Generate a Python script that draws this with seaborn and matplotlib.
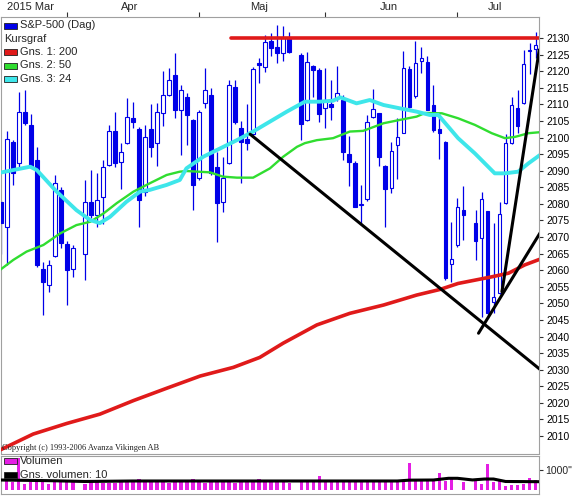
import numpy as np
import pandas as pd
import seaborn as sns
import matplotlib
matplotlib.use("Agg")
import matplotlib.pyplot as plt
from matplotlib.patches import Rectangle

nan = np.nan

# S&P-500 (Dag), weekdays 2015-03-17 .. 2015-07-20, holidays left empty
dates = pd.bdate_range("2015-03-17", "2015-07-20")

opens = [2080.6, 2073.0, 2098.6, 2092.3, 2107.7, 2103.8, 2093.2, 2060.4, 2055.6, 2064.2,
         2084.2, 2067.9, 2060.3, nan, 2064.9, 2080.6, 2076.5, 2082.0, 2091.7, 2102.0,
         2092.6, 2098.3, 2105.9, 2102.6, 2083.6, 2102.6, 2098.3, 2107.4, 2112.8, 2118.8,
         2108.3, 2112.2, 2105.3, 2087.8, 2110.4, 2112.8, 2091.1, 2080.6, 2092.3, 2115.2,
         2102.9, 2099.6, 2101.0, 2122.5, 2121.3, 2129.1, 2127.3, 2125.5, 2130.0, nan,
         2124.9, 2105.3, 2121.6, 2120.4, 2108.9, 2110.1, 2111.8, 2111.3, 2095.0, 2092.4,
         2079.7, 2081.4, 2106.3, 2107.3, 2091.4, 2084.7, 2097.7, 2101.5, 2120.6, 2112.5,
         2123.0, 2122.9, 2109.8, 2102.5, 2098.7, 2061.9, 2067.6, 2078.1, nan, 2074.3,
         2069.6, 2077.7, 2050.5, 2053.2, 2080.4, 2098.4, 2108.8, 2110.5, 2126.0, 2126.6]
highs = [2081.2, 2102.0, 2099.3, 2113.7, 2114.3, 2107.2, 2097.1, 2062.5, 2063.1, 2088.7,
         2085.1, 2068.8, 2067.5, nan, 2087.2, 2090.2, 2089.3, 2093.2, 2103.8, 2107.7,
         2098.3, 2111.9, 2110.7, 2103.2, 2103.8, 2110.0, 2110.4, 2120.2, 2121.0, 2125.5,
         2115.8, 2113.4, 2105.5, 2108.3, 2121.0, 2115.0, 2095.6, 2094.1, 2117.3, 2117.3,
         2105.0, 2110.1, 2121.3, 2124.0, 2130.9, 2131.4, 2133.9, 2133.7, 2131.9, nan,
         2125.5, 2125.8, 2122.0, 2121.0, 2120.9, 2117.3, 2121.6, 2112.8, 2100.5, 2093.0,
         2085.7, 2106.7, 2114.5, 2107.5, 2091.6, 2098.7, 2106.0, 2126.2, 2121.5, 2129.2,
         2127.4, 2124.5, 2115.7, 2107.3, 2098.9, 2074.6, 2081.7, 2085.3, nan, 2078.0,
         2083.7, 2077.9, 2074.2, 2080.6, 2101.2, 2112.2, 2114.4, 2126.3, 2128.5, 2131.8]
lows = [2065.0, 2061.6, 2085.7, 2091.0, 2103.8, 2090.8, 2061.0, 2046.5, 2053.4, 2064.0,
        2066.7, 2049.5, 2057.9, nan, 2057.0, 2075.8, 2073.0, 2074.0, 2091.5, 2091.0,
        2084.5, 2098.0, 2102.9, 2073.0, 2082.5, 2094.0, 2091.5, 2103.5, 2112.5, 2105.9,
        2094.7, 2097.7, 2078.1, 2087.2, 2109.0, 2088.7, 2068.5, 2077.5, 2092.0, 2104.2,
        2086.3, 2096.2, 2100.5, 2116.4, 2119.8, 2124.5, 2122.4, 2123.0, 2125.5, nan,
        2099.2, 2105.0, 2112.3, 2104.8, 2102.8, 2105.3, 2111.0, 2093.2, 2085.5, 2079.0,
        2073.6, 2081.0, 2106.0, 2091.3, 2073.1, 2083.2, 2087.6, 2101.3, 2109.0, 2112.0,
        2119.5, 2108.3, 2101.8, 2093.5, 2057.0, 2056.3, 2067.0, 2069.2, nan, 2063.0,
        2046.0, 2045.5, 2047.0, 2052.8, 2080.0, 2098.0, 2101.5, 2110.2, 2119.2, 2124.0]
closes = [2074.3, 2099.6, 2089.3, 2107.7, 2104.4, 2091.1, 2061.6, 2056.4, 2061.6, 2086.3,
          2068.2, 2060.1, 2066.7, nan, 2080.6, 2076.6, 2081.1, 2091.2, 2102.0, 2092.3,
          2095.6, 2106.2, 2104.7, 2081.2, 2100.2, 2097.1, 2107.7, 2112.8, 2117.3, 2108.3,
          2114.3, 2106.8, 2085.7, 2107.7, 2114.3, 2089.3, 2080.3, 2087.8, 2115.8, 2104.7,
          2098.6, 2098.3, 2120.6, 2121.9, 2128.8, 2127.0, 2125.5, 2130.0, 2125.8, nan,
          2104.1, 2122.8, 2120.4, 2107.1, 2111.3, 2109.3, 2113.5, 2095.7, 2092.7, 2079.1,
          2080.1, 2104.8, 2108.5, 2094.0, 2084.4, 2096.0, 2100.2, 2120.9, 2109.3, 2122.4,
          2123.9, 2108.3, 2102.3, 2101.3, 2057.6, 2063.3, 2079.0, 2076.6, nan, 2068.9,
          2081.4, 2047.2, 2051.8, 2076.9, 2098.4, 2109.8, 2103.5, 2122.2, 2126.3, 2127.9]
volumes = [400, 450, 420, 1580, 300, 400, 440, 420, 340, 400,
           430, 430, 470, nan, 330, 400, 400, 390, 370, 380,
           400, 420, 470, 560, 400, 400, 420, 420, 380, 520,
           430, 440, 560, 420, 390, 450, 470, 450, 410, 390,
           410, 420, 400, 560, 400, 400, 410, 400, 385, nan,
           510, 465, 465, 710, 450, 440, 450, 460, 450, 430,
           440, 450, 440, 440, 430, 440, 450, 520, 1350, 450,
           440, 450, 470, 870, 470, 610, 40, 400, nan, 510,
           300, 1300, 400, 510, 220, 270, 270, 300, 590, 490]

# moving averages (position in trading slots, level)
ma200_pos = [-0.1, 5.4, 11.0, 16.5, 22.1, 27.6, 33.2, 38.7, 43.1, 47.0, 52.6, 58.1,
             63.7, 69.2, 73.1, 76.1, 78.9, 81.7, 84.5, 87.2, 89.7]
ma200 = [2005.8, 2010.6, 2013.8, 2016.6, 2020.7, 2024.4, 2028.1, 2030.7, 2033.7, 2038.0,
         2043.5, 2047.0, 2049.5, 2052.5, 2054.2, 2056.0, 2057.0, 2058.0, 2059.1, 2061.6, 2063.3]
ma50_pos = [-0.1, 2.1, 4.3, 7.1, 9.9, 12.6, 14.9, 17.1, 19.3, 22.1, 24.8, 27.6, 29.8,
            30.9, 34.8, 37.0, 39.3, 42.0, 44.8, 47.0, 49.3, 50.6, 52.6, 55.3, 58.1, 60.3,
            63.7, 66.4, 69.2, 70.6, 73.4, 76.1, 78.9, 81.7, 83.9, 85.6, 87.8, 89.7]
ma50 = [2060.1, 2063.1, 2065.6, 2067.6, 2071.1, 2073.6, 2074.6, 2077.1, 2080.2, 2083.7,
        2086.2, 2088.7, 2089.7, 2089.9, 2089.5, 2088.2, 2087.9, 2087.9, 2090.7, 2094.2,
        2097.2, 2098.3, 2099.2, 2099.8, 2101.8, 2102.0, 2104.3, 2105.3, 2106.3, 2107.4,
        2107.3, 2105.8, 2103.8, 2101.3, 2099.8, 2100.2, 2101.3, 2101.6]
ma24_pos = [-0.1, 4.9, 6.0, 9.3, 12.6, 14.9, 16.5, 18.2, 20.9, 23.2, 24.8, 27.6, 29.8,
            30.9, 33.7, 36.5, 39.3, 42.0, 44.8, 47.6, 50.6, 53.1, 55.3, 56.5, 59.2, 61.4,
            63.7, 66.4, 69.2, 71.4, 72.8, 76.1, 78.9, 82.2, 83.9, 86.1, 87.8, 89.7]
ma24 = [2089.4, 2091.2, 2090.2, 2083.7, 2078.1, 2075.1, 2074.2, 2076.1, 2080.6, 2083.7,
        2084.2, 2085.7, 2087.2, 2090.7, 2094.2, 2096.7, 2099.2, 2101.8, 2104.8, 2107.8,
        2110.8, 2110.8, 2111.1, 2112.1, 2110.3, 2111.3, 2109.8, 2108.8, 2107.8, 2106.8,
        2106.8, 2099.8, 2095.2, 2089.2, 2089.2, 2089.7, 2092.2, 2094.7]
vol_avg_pos = [0, 8, 14, 22, 48, 66, 68, 72, 74.5, 76, 78.5, 80.5, 82, 84, 89.5]
vol_avg = [512, 480, 440, 464, 464, 464, 505, 512, 595, 595, 515, 560, 560, 440, 430]

# hand-drawn lines on the chart
resist_pos, resist_lvl = [38.4, 90.0], [2130.0, 2130.0]
down_pos, down_lvl = [41.5, 90.0], [2101.0, 2029.7]
up_pos, up_lvl = [79.5, 90.0], [2041.0, 2072.0]
steep_pos, steep_lvl = [83.4, 89.6], [2053.5, 2126.4]

month_names = ["2015 Mar", "Apr", "Maj", "Jun", "Jul"]
price_ticks = list(range(2010, 2135, 5))

BLUE = "#0000e8"
RED = "#e01a1a"
GREEN = "#30dd30"
CYAN = "#3ee6ea"
MAGENTA = "#e41ee4"
GRAY = "#a0a0a0"

sns.set_style("white")
plt.rcParams["font.family"] = ["Liberation Sans", "DejaVu Sans"]

W, H = 574, 496
fig = plt.figure(figsize=(W / 100, H / 100), dpi=100)


def fx(x):
    return x / W


def fy(y):
    return 1 - y / H


ax = fig.add_axes([fx(1), fy(453.5), (538.5 - 1) / W, (453.5 - 17) / H])
vax = fig.add_axes([fx(1), fy(494), (538.5 - 1) / W, (494 - 456) / H])

df = pd.DataFrame({"date": dates, "open": opens, "high": highs, "low": lows,
                   "close": closes, "volume": volumes})
df["pos"] = np.arange(len(df))
ok = df.dropna()
up = ok[ok.close >= ok.open]
dn = ok[ok.close < ok.open]

# candles
ax.vlines(ok.pos, ok.low, ok.high, color=BLUE, lw=0.9, zorder=2)
ax.bar(up.pos, (up.close - up.open).clip(lower=0.35), bottom=up.open, width=0.62,
       facecolor="white", edgecolor=BLUE, linewidth=0.8, zorder=3)
ax.bar(dn.pos, dn.close - dn.open, bottom=dn.open, width=0.62,
       facecolor=BLUE, edgecolor=BLUE, linewidth=0.8, zorder=3)

# moving averages
sns.lineplot(x=ma200_pos, y=ma200, ax=ax, color=RED, lw=2.6, zorder=4)
sns.lineplot(x=ma50_pos, y=ma50, ax=ax, color=GREEN, lw=1.7, zorder=4)
sns.lineplot(x=ma24_pos, y=ma24, ax=ax, color=CYAN, lw=2.8, zorder=4)

# drawn lines
sns.lineplot(x=resist_pos, y=resist_lvl, ax=ax, color=RED, lw=2.6, zorder=5)
for xs, ys in [(down_pos, down_lvl), (up_pos, up_lvl), (steep_pos, steep_lvl)]:
    sns.lineplot(x=xs, y=ys, ax=ax, color="black", lw=2.2, zorder=5)

ax.set_xlim(0.05, 89.48)
ax.set_ylim(2004.74, 2136.33)
ax.set_xlabel("")
ax.set_ylabel("")

# price axis on the right
ax.yaxis.tick_right()
ax.set_yticks(price_ticks)
ax.set_yticklabels([str(t) for t in price_ticks])
ax.tick_params(axis="y", which="major", right=True, left=False, length=3, width=0.8,
               color="#303030", pad=3, labelsize=7.5, labelcolor="black")

# month axis on top
month_start = [i for i in range(1, len(dates)) if dates[i].month != dates[i - 1].month]
edges = [0.05] + month_start + [89.48]
mids = [(edges[k] + edges[k + 1]) / 2 - 0.5 for k in range(len(edges) - 1)]
ax.xaxis.tick_top()
ax.set_xticks(month_start)
ax.set_xticklabels([])
ax.set_xticks(mids, minor=True)
ax.set_xticklabels(month_names, minor=True)
ax.tick_params(axis="x", which="major", top=True, bottom=False, length=3.5, width=0.8,
               color="#303030")
ax.tick_params(axis="x", which="minor", top=True, bottom=False, length=0, pad=3.6,
               labelsize=8)

for s in ax.spines.values():
    s.set_color(GRAY)
    s.set_linewidth(0.8)

# volume panel
vax.bar(ok.pos, ok.volume, width=0.56, color=MAGENTA, linewidth=0, zorder=2)
sns.lineplot(x=vol_avg_pos, y=vol_avg, ax=vax, color="black", lw=2.2, zorder=3)
vax.set_xlim(0.05, 89.48)
vax.set_ylim(-171, 1684)
vax.set_xticks([])
vax.yaxis.tick_right()
vax.set_yticks([1000])
vax.set_yticklabels(['1000"'])
vax.tick_params(axis="y", right=True, left=False, length=3, width=0.8, color="#303030",
                pad=2, labelsize=7.5)
vax.set_xlabel("")
vax.set_ylabel("")
for s in vax.spines.values():
    s.set_color(GRAY)
    s.set_linewidth(0.8)

# legends, drawn like the original boxes
def legend_box(x, y, color, label):
    fig.patches.append(Rectangle((fx(x), fy(y + 3)), 13 / W, 6 / H,
                                 transform=fig.transFigure, facecolor=color,
                                 edgecolor="#202020", lw=0.6, zorder=6))
    fig.text(fx(x + 16), fy(y), label, va="center", ha="left", fontsize=8, zorder=6)


legend_box(4, 25.5, BLUE, "S&P-500 (Dag)")
fig.text(fx(4), fy(39), "Kursgraf", va="center", ha="left", fontsize=8)
legend_box(4, 52, RED, "Gns. 1: 200")
legend_box(4, 65.5, GREEN, "Gns. 2: 50")
legend_box(4, 78.5, CYAN, "Gns. 3: 24")
legend_box(3.5, 461, MAGENTA, "Volumen")
legend_box(3.5, 474.5, "black", "Gns. volumen: 10")

fig.text(fx(2), fy(448), "Copyright (c) 1993-2006 Avanza Vikingen AB",
         family=["Liberation Serif", "DejaVu Serif"], fontsize=6, va="center",
         ha="left", color="#202020")

fig.savefig("out.png", dpi=100)
